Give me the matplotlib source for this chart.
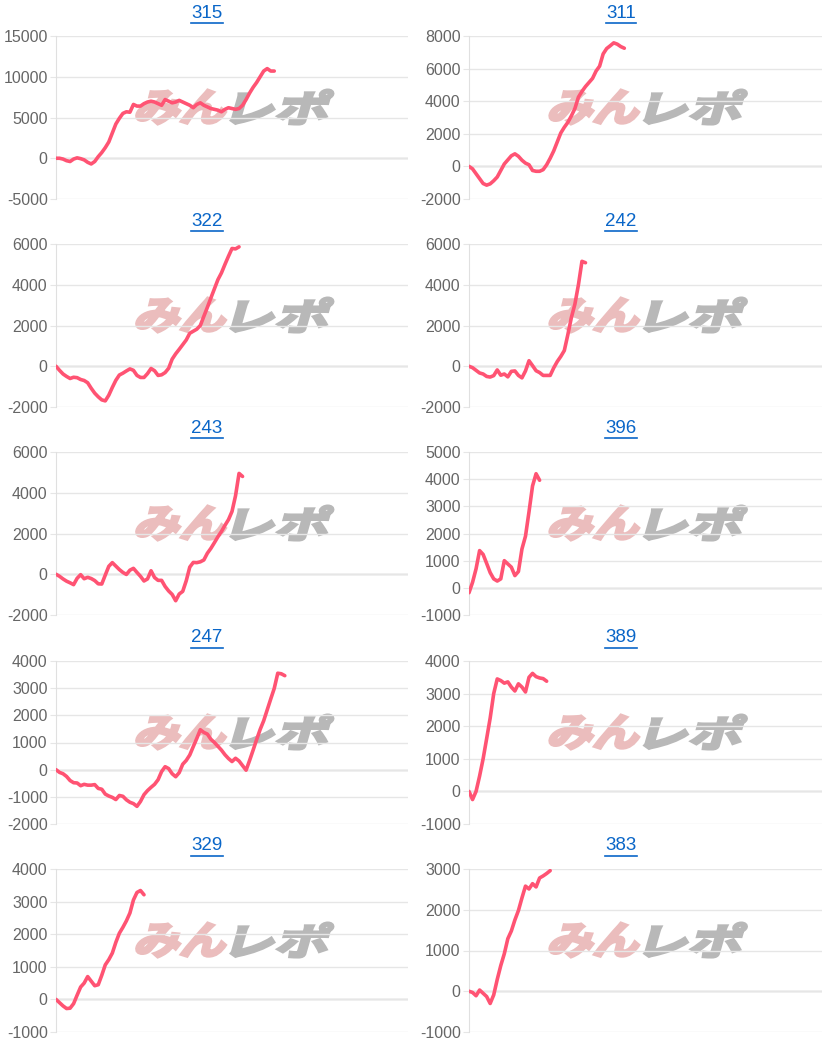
import matplotlib
matplotlib.use("Agg")
import matplotlib.pyplot as plt
import matplotlib.transforms as mtransforms
from matplotlib.font_manager import FontProperties
from matplotlib.textpath import TextPath
from matplotlib.patches import PathPatch
from matplotlib.lines import Line2D

plt.rcParams["axes.unicode_minus"] = False

# machine numbers shown as panel titles
machines = ["315", "311", "322", "242", "243", "396", "247", "389", "329", "383"]

# x axis: number of slots on every chart
x_slots = 100

# cumulative difference per slot
diff_315 = [0, 0, -100, -300, -400, -100, 50, -50, -200, -500, -700, -400, 200, 700,
            1300, 2000, 3100, 4200, 4900, 5500, 5700, 5650, 6600, 6400, 6400, 6700,
            6900, 7000, 6900, 6700, 6500, 7200, 7000, 6800, 6900, 7100, 6900, 6700,
            6500, 6200, 6600, 6800, 6500, 6300, 6100, 6000, 5900, 5700, 6000, 6200,
            6100, 6000, 6100, 6500, 7200, 8000, 8700, 9300, 10000, 10700, 11000,
            10700, 10700]
diff_311 = [0, -150, -450, -750, -1050, -1150, -1070, -880, -650, -250, 150, 400, 650,
            770, 620, 380, 200, 100, -250, -300, -300, -200, 100, 500, 950, 1500, 2050,
            2400, 2700, 3100, 3550, 4250, 4600, 4900, 5150, 5400, 5850, 6150, 6900,
            7230, 7400, 7580, 7500, 7350, 7250]
diff_322 = [0, -200, -380, -500, -600, -540, -560, -650, -700, -810, -1080, -1320,
            -1500, -1650, -1700, -1420, -1040, -690, -430, -340, -230, -130, -200, -450,
            -550, -550, -360, -110, -220, -450, -420, -310, -100, 350, 610, 830, 1060,
            1290, 1620, 1720, 1820, 2000, 2450, 2890, 3350, 3800, 4250, 4580, 5000,
            5400, 5780, 5760, 5860]
diff_242 = [0, -70, -200, -330, -380, -500, -530, -460, -180, -440, -380, -520, -250,
            -230, -450, -570, -230, 270, 30, -220, -310, -450, -450, -450, -80, 230, 480,
            770, 1550, 2390, 3050, 4000, 5150, 5080]
diff_243 = [0, -100, -230, -340, -420, -510, -200, -20, -220, -150, -210, -310, -470,
            -480, -40, 390, 570, 400, 230, 90, -10, 200, 290, 90, -100, -330, -230, 170,
            -160, -300, -300, -600, -820, -990, -1300, -970, -840, -320, 350, 580, 570,
            610, 700, 1030, 1270, 1550, 1840, 2100, 2400, 2680, 3080, 3850, 4950, 4800]
diff_396 = [-180, 200, 700, 1370, 1230, 900, 560, 330, 250, 330, 1000, 880, 760, 450,
            600, 1430, 1900, 2800, 3750, 4200, 3960]
diff_247 = [0, -100, -150, -250, -400, -480, -490, -590, -540, -570, -570, -550, -690,
            -720, -900, -970, -1020, -1100, -950, -980, -1110, -1200, -1250, -1350,
            -1170, -920, -770, -650, -540, -370, -70, 110, 40, -150, -260, -110, 200,
            340, 540, 850, 1150, 1470, 1370, 1310, 1120, 1000, 860, 720, 550, 410, 300,
            420, 320, 150, -20, 340, 720, 1110, 1480, 1800, 2200, 2600, 2990, 3550, 3530,
            3460]
diff_389 = [0, -250, 0, 470, 1000, 1620, 2250, 3000, 3450, 3400, 3320, 3360, 3200, 3080,
            3300, 3200, 3050, 3500, 3620, 3520, 3480, 3460, 3380]
diff_329 = [0, -100, -200, -280, -270, -130, 130, 380, 500, 700, 560, 420, 450, 740,
            1060, 1220, 1420, 1750, 2030, 2210, 2410, 2650, 3050, 3280, 3340, 3210]
diff_383 = [0, -30, -110, 30, -50, -130, -300, -90, 290, 630, 920, 1290, 1480, 1750,
            1980, 2290, 2580, 2510, 2640, 2560, 2780, 2830, 2890, 2960]

series = [diff_315, diff_311, diff_322, diff_242, diff_243,
          diff_396, diff_247, diff_389, diff_329, diff_383]

# y axis (min, max, step) per chart
y_axes = [(-5000, 15000, 5000), (-2000, 8000, 2000), (-2000, 6000, 2000),
          (-2000, 6000, 2000), (-2000, 6000, 2000), (-1000, 5000, 1000),
          (-2000, 4000, 1000), (-1000, 4000, 1000), (-1000, 4000, 1000),
          (-1000, 3000, 1000)]

W, H = 828, 1045
fig = plt.figure(figsize=(W / 100, H / 100), dpi=100)

col_left = [56, 469]
col_right = [408, 822]
col_center = [207, 621]
row_top = [36, 244, 452, 661, 869]
plot_h = 163

line_color = "#ff5373"
grid_color = "#e6e6e6"
tick_color = "#666666"

wm_font = FontProperties(family="Noto Sans CJK JP", weight="bold")


def add_watermark(ax, text, color, x0, y0, w_px, h_px):
    tp = TextPath((0, 0), text, size=1, prop=wm_font)
    bb = tp.get_extents()
    tr = (mtransforms.Affine2D()
          .translate(-bb.x0, -bb.y0)
          .scale(w_px / bb.width, h_px / bb.height)
          .skew_deg(16, 0)
          + mtransforms.ScaledTranslation(x0, y0, ax.transAxes))
    ax.add_patch(PathPatch(tp, transform=tr, facecolor=color, edgecolor=color,
                           lw=2.2, joinstyle="miter", zorder=1, clip_on=False))


axes = []
titles = []
for i, (name, vals, (lo, hi, step)) in enumerate(zip(machines, series, y_axes)):
    r, c = divmod(i, 2)
    left = col_left[c]
    width = col_right[c] - col_left[c]
    top = row_top[r]
    ax = fig.add_axes([left / W, 1 - (top + plot_h) / H, width / W, plot_h / H])
    axes.append(ax)

    ax.set_xlim(0, x_slots)
    ax.set_ylim(lo, hi)
    ax.set_yticks(range(lo, hi + 1, step))
    ax.set_xticks([])
    ax.grid(axis="y", color=grid_color, lw=1, zorder=0)
    ax.axhline(0, color="#bdbdbd", lw=1, zorder=0.5)
    for s in ["top", "right", "bottom"]:
        ax.spines[s].set_visible(False)
    ax.spines["left"].set_color("#e0e0e0")
    ax.tick_params(axis="y", length=4, color=grid_color, pad=2,
                   labelcolor=tick_color, labelsize=11.5)
    for lab in ax.get_yticklabels():
        lab.set_family("Liberation Sans")

    add_watermark(ax, "みん", "#ebbdbd", 0.222, 0.46, 88, 34)
    add_watermark(ax, "レポ", "#b8b8b8", 0.495, 0.46, 94, 34)

    ax.plot(range(len(vals)), vals, color=line_color, lw=2.6, zorder=3,
            solid_joinstyle="round", solid_capstyle="round")

    t = fig.text(col_center[c] / W, 1 - (top - 23) / H, name, ha="center",
                 va="center", color="#0a66c8", fontsize=13.5,
                 family="Liberation Sans")
    titles.append(t)

# underline the titles like links
fig.canvas.draw()
renderer = fig.canvas.get_renderer()
for t in titles:
    bb = t.get_window_extent(renderer)
    y = (bb.y0 - 1) / H
    fig.add_artist(Line2D([bb.x0 / W, bb.x1 / W], [y, y], color="#0a66c8", lw=1.2))

fig.savefig("out.png", dpi=100)
